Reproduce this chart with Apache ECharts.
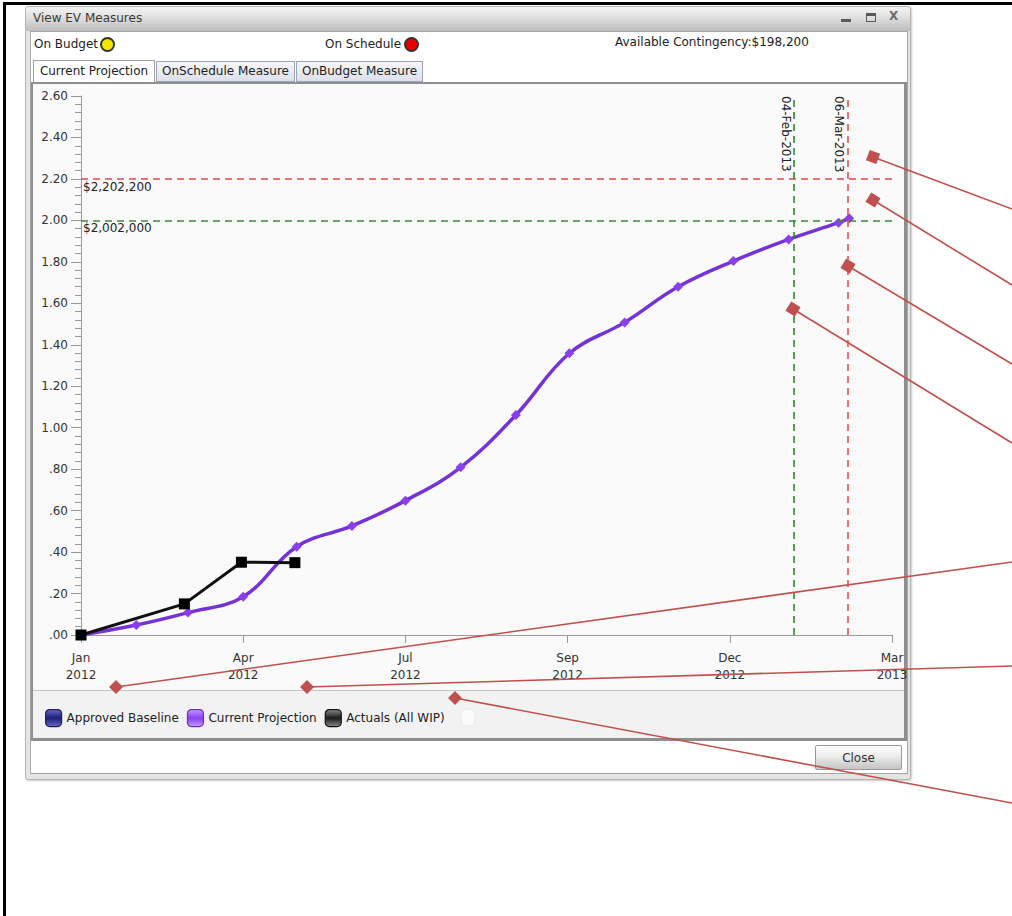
<!DOCTYPE html>
<html><head><meta charset="utf-8">
<script src="https://cdn.jsdelivr.net/npm/echarts@6/dist/echarts.min.js"></script>
<style>
html,body{margin:0;padding:0;background:#fff;}
body{position:relative;width:1012px;height:916px;overflow:hidden;font-family:"DejaVu Sans",Verdana,sans-serif;font-size:12px;color:#222;}
.a{position:absolute;box-sizing:border-box;}
.t{position:absolute;white-space:nowrap;line-height:14px;}
#c{position:absolute;left:0;top:0;width:1012px;height:916px;z-index:10;}
</style>
</head><body>
<div class="a" style="left:3px;top:2px;width:1009px;height:914px;border-left:3px solid #000;border-top:3px solid #000;"></div>
<!-- window -->
<div class="a" style="left:25px;top:6px;width:886px;height:774px;border:1px solid #b4b4b4;border-radius:3px;background:#e4e4e4;box-shadow:1px 1px 2px #ccc;"></div>
<div class="a" style="left:26px;top:7px;width:884px;height:24px;background:linear-gradient(#f4f4f4,#dedede 45%,#bdbdbd);border-radius:2px 2px 0 0;"></div>
<div class="t" style="left:33px;top:11px;color:#3a3a3a;">View EV Measures</div>
<div class="a" style="left:841px;top:19px;width:10px;height:3px;background:#5a5a5a;"></div>
<div class="a" style="left:866px;top:13px;width:10px;height:9px;border:1px solid #5a5a5a;border-top-width:3px;"></div>
<div class="t" style="left:889px;top:9px;color:#6a6a6a;font-weight:bold;font-size:12px;">X</div>
<div class="a" style="left:30px;top:31px;width:878px;height:743px;background:#fff;border:1px solid #a8a8a8;"></div>
<div class="t" style="left:34px;top:37px;">On Budget</div>
<div class="a" style="left:100px;top:37px;width:15px;height:15px;border-radius:50%;background:#f4e600;border:2px solid #333;"></div>
<div class="t" style="left:325px;top:37px;">On Schedule</div>
<div class="a" style="left:404px;top:37px;width:15px;height:15px;border-radius:50%;background:#e80000;border:2px solid #333;"></div>
<div class="t" style="left:615px;top:35px;">Available Contingency:$198,200</div>
<!-- tabs -->
<div class="a" style="left:33px;top:60px;width:122px;height:23px;background:#fff;border:1px solid #a0a0a0;border-bottom:none;"></div>
<div class="t" style="left:33px;top:64px;width:122px;text-align:center;">Current Projection</div>
<div class="a" style="left:156px;top:61px;width:139px;height:21px;background:linear-gradient(#f6f7fb,#dde0ea);border:1px solid #9ea3b6;"></div>
<div class="t" style="left:156px;top:64px;width:139px;text-align:center;">OnSchedule Measure</div>
<div class="a" style="left:296px;top:61px;width:127px;height:21px;background:linear-gradient(#f6f7fb,#dde0ea);border:1px solid #9ea3b6;"></div>
<div class="t" style="left:296px;top:64px;width:127px;text-align:center;">OnBudget Measure</div>
<!-- chart frame -->
<div class="a" style="left:31px;top:82px;width:876px;height:659px;background:#fafafa;border:2px solid #8e8e8e;border-right-width:3px;border-bottom-width:3px;"></div>
<div class="a" style="left:33px;top:690px;width:871px;height:48px;background:#f2f2f2;border-top:1px solid #c4c4c4;"></div>
<div class="a" style="left:461px;top:709px;width:14px;height:17px;border-radius:3px;background:#fbfbfb;border:1px solid #ececec;"></div>
<!-- close button -->
<div class="a" style="left:815px;top:745px;width:87px;height:25px;border:1px solid #9a9a9a;border-radius:2px;background:linear-gradient(#fdfdfd,#ececec 45%,#c4c4c4);"></div>
<div class="t" style="left:815px;top:751px;width:87px;text-align:center;color:#333;">Close</div>

<div id="c"></div>
<script>
// ---------- data ----------
const MONTHS = ['Jan','Feb','Mar','Apr','May','Jun','Jul','Aug','Sep','Oct','Nov','Dec'];
const START_DATE = '2012-01-01';
const xTickStepDays = 91;
const xMaxDays = 455;
const yTickStep = 0.2;
const yMax = 2.6;

const baselineDates = [];
const baselineValues = [];

const projDates = ['2012-01-01','2012-02-01','2012-03-01','2012-04-01','2012-05-01','2012-06-01','2012-07-01','2012-08-01','2012-09-01','2012-10-01','2012-11-01','2012-12-01','2013-01-01','2013-02-01','2013-03-01','2013-03-07'];
const projValues = [0.00,0.048,0.108,0.185,0.426,0.526,0.648,0.809,1.061,1.359,1.508,1.680,1.804,1.908,1.989,2.010];

const actualDates = ['2012-01-01','2012-02-28','2012-03-31','2012-04-30'];
const actualValues = [0.00,0.150,0.351,0.349];

const budgetLines = [2.2022, 2.002];
const budgetLabels = ['$2,202,200','$2,002,000'];
const scheduleDates = ['2013-02-04','2013-03-06'];
const scheduleLabels = ['04-Feb-2013','06-Mar-2013'];

const seriesNames = ['Approved Baseline','Current Projection','Actuals (All WIP)'];

// annotation callouts (decoration, screen positions)
const calloutSquares = [[873,157,1012,209],[873,200,1012,285],[848,266,1012,364],[793,309,1012,443]];
const calloutDiamonds = [[116,687,1012,562],[307,687,1012,666],[455,698,1012,803]];

// ---------- helpers ----------
function dayOf(s){
  const p = s.split('-').map(Number), q = START_DATE.split('-').map(Number);
  return Math.round((Date.UTC(p[0],p[1]-1,p[2]) - Date.UTC(q[0],q[1]-1,q[2]))/864e5);
}
function pairs(ds, vs){ return ds.map((d,i)=>[dayOf(d), vs[i]]); }
const FONT = 'DejaVu Sans';
const RED = '#e2474c', GREEN = '#3a8c3a', CALL = '#c0504d';

const chart = echarts.init(document.getElementById('c'), null, {renderer:'svg'});

const annot = [];
calloutSquares.forEach((a,i)=>{
  annot.push({type:'line', z:100, silent:true, shape:{x1:a[0],y1:a[1],x2:a[2],y2:a[3]}, style:{stroke:CALL,lineWidth:1.6}});
  annot.push({type:'rect', z:101, silent:true, x:a[0], y:a[1], rotation:-Math.atan2(a[3]-a[1],a[2]-a[0]),
    shape:{x:-5.5,y:-5.5,width:11,height:11}, style:{fill:CALL}});
});
calloutDiamonds.forEach((a,i)=>{
  annot.push({type:'line', z:100, silent:true, shape:{x1:a[0],y1:a[1],x2:a[2],y2:a[3]}, style:{stroke:CALL,lineWidth:1.6}});
  annot.push({type:'polygon', z:101, silent:true, shape:{points:[[a[0]-7,a[1]],[a[0],a[1]-7],[a[0]+7,a[1]],[a[0],a[1]+7]]}, style:{fill:CALL}});
});

function legendIcon(c1,c2,b){
  return {color:new echarts.graphic.LinearGradient(0,0,0,1,[{offset:0,color:c1},{offset:0.5,color:c2},{offset:1,color:c1}]), borderColor:b, borderWidth:1.2};
}

const option = {
  animation:false,
  backgroundColor:'transparent',
  textStyle:{fontFamily:FONT},
  grid:{left:81, top:96, right:120, bottom:281, outerBoundsMode:'none', containLabel:false},
  legend:{
    left:45, top:709, padding:0, itemWidth:16, itemHeight:17, itemGap:8, icon:'roundRect',
    textStyle:{fontFamily:FONT, fontSize:12, color:'#222'},
    data:[
      {name:seriesNames[0], itemStyle:legendIcon('#6a6ac4','#1c1c7a','#1e1e5e')},
      {name:seriesNames[1], itemStyle:legendIcon('#c69af8','#8a3ff0','#6d2fc0')},
      {name:seriesNames[2], itemStyle:legendIcon('#8a8a8a','#1a1a1a','#111')}
    ]
  },
  xAxis:{
    type:'value', min:0, max:xMaxDays, interval:xTickStepDays,
    axisLine:{show:true, onZero:false, lineStyle:{color:'#9a9a9a', width:1}},
    axisTick:{show:true, length:8, lineStyle:{color:'#9a9a9a'}},
    splitLine:{show:false},
    axisLabel:{
      color:'#333', fontFamily:FONT, fontSize:12, lineHeight:17, margin:14, showMaxLabel:true, showMinLabel:true,
      formatter:function(v){
        const q = START_DATE.split('-').map(Number);
        const d = new Date(Date.UTC(q[0],q[1]-1,q[2]) + v*864e5);
        return MONTHS[d.getUTCMonth()] + '\n' + d.getUTCFullYear();
      }
    }
  },
  yAxis:{
    type:'value', min:0, max:yMax, interval:yTickStep,
    axisLine:{show:true, lineStyle:{color:'#9a9a9a', width:1}},
    axisTick:{show:true, length:10, lineStyle:{color:'#9a9a9a'}},
    minorTick:{show:true, splitNumber:5, length:6, lineStyle:{color:'#9a9a9a'}},
    splitLine:{show:false}, minorSplitLine:{show:false},
    axisLabel:{
      color:'#333', fontFamily:FONT, fontSize:12, margin:13,
      formatter:function(v){ const s = v.toFixed(2); return v < 1 ? s.slice(1) : s; }
    }
  },
  series:[
    {name:seriesNames[0], type:'line', color:'#1c1c7a', data:pairs(baselineDates, baselineValues), symbol:'none'},
    {name:seriesNames[1], type:'line', color:'#8a3ff0', smooth:0.4,
     data:pairs(projDates, projValues),
     lineStyle:{color:'#7433d6', width:3.5},
     symbol:'diamond', symbolSize:10, itemStyle:{color:'#8a3ff0'},
     z:3,
     markLine:{silent:true, symbol:'none', animation:false,
       data:[
         {yAxis:budgetLines[0], lineStyle:{color:RED, type:[7,5], width:1.6},
          label:{show:true, position:'insideStartBottom', distance:2, formatter:budgetLabels[0], color:'#222', fontFamily:FONT, fontSize:12}},
         {yAxis:budgetLines[1], lineStyle:{color:GREEN, type:[7,5], width:1.6},
          label:{show:true, position:'insideStartBottom', distance:2, formatter:budgetLabels[1], color:'#222', fontFamily:FONT, fontSize:12}},
         {xAxis:dayOf(scheduleDates[0]), lineStyle:{color:'#2a8a2a', type:[7,5], width:1.6}, label:{show:false}},
         {xAxis:dayOf(scheduleDates[1]), lineStyle:{color:'#e05458', type:[7,5], width:1.6}, label:{show:false}}
       ]}
    },
    {name:seriesNames[2], type:'line', color:'#111',
     data:pairs(actualDates, actualValues),
     lineStyle:{color:'#111', width:3},
     symbol:'rect', symbolSize:11, itemStyle:{color:'#000'}, z:4}
  ],
  graphic:{elements:annot}
};
chart.setOption(option);

// rotated labels for schedule lines, placed through the chart's own scales
const extra = scheduleDates.map((d,i)=>{
  const p = chart.convertToPixel({gridIndex:0}, [dayOf(d), yMax]);
  return {type:'text', id:'sl'+i, z:50, silent:true, x:p[0]-2, y:p[1], rotation:-Math.PI/2,
    style:{text:scheduleLabels[i], fill:'#222', font:'12px "DejaVu Sans"', textAlign:'left', textVerticalAlign:'top', verticalAlign:'top'}};
});
chart.setOption({graphic:{elements:annot.concat(extra)}});
</script>
</body></html>
